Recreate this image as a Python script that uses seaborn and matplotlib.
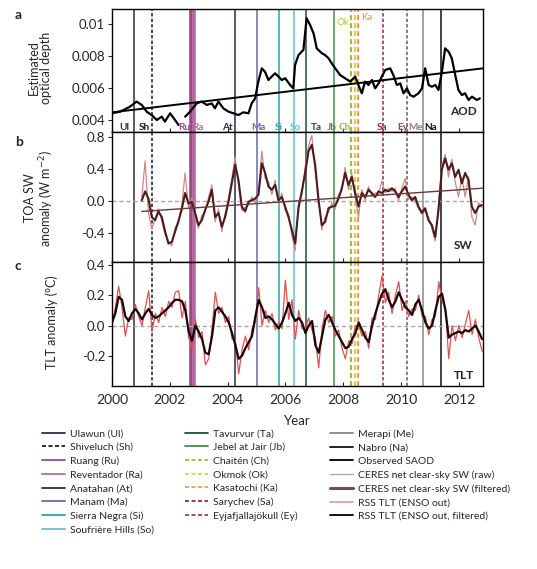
import numpy as np
import pandas as pd
import matplotlib.pyplot as plt
import seaborn as sns
from matplotlib.lines import Line2D

# ---- data ----
volc_names = ["Ulawun (Ul)", "Shiveluch (Sh)", "Ruang (Ru)", "Reventador (Ra)",
              "Anatahan (At)", "Manam (Ma)", "Sierra Negra (Si)", "Soufrière Hills (So)",
              "Tavurvur (Ta)", "Jebel at Jair (Jb)", "Chaitén (Ch)", "Okmok (Ok)",
              "Kasatochi (Ka)", "Sarychev (Sa)", "Eyjafjallajökull (Ey)",
              "Merapi (Me)", "Nabro (Na)"]
volc_codes = ["Ul", "Sh", "Ru", "Ra", "At", "Ma", "Si", "So", "Ta", "Jb", "Ch", "Ok",
              "Ka", "Sa", "Ey", "Me", "Na"]
volc_dates = [2000.76, 2001.37, 2002.74, 2002.84, 2004.25, 2005.00, 2005.76, 2006.31,
              2006.71, 2007.69, 2008.26, 2008.40, 2008.52, 2009.37, 2010.20, 2010.77, 2011.38]

aod_year = [2000.00, 2000.28, 2000.62, 2000.85, 2001.03, 2001.20, 2001.37, 2001.55, 2001.72,
            2001.83, 2002.01, 2002.18, 2002.30,
            2002.53, 2002.70, 2002.93, 2003.10, 2003.28, 2003.45, 2003.56, 2003.68, 2003.85,
            2004.03, 2004.20, 2004.37, 2004.54, 2004.72, 2004.83, 2004.95, 2005.06, 2005.18,
            2005.29, 2005.41, 2005.52, 2005.64, 2005.76, 2005.87, 2005.99, 2006.16, 2006.27,
            2006.33, 2006.45, 2006.62, 2006.73, 2006.85, 2006.97, 2007.08, 2007.26, 2007.37,
            2007.49, 2007.60, 2007.72, 2007.89, 2008.06, 2008.24, 2008.41, 2008.52, 2008.64,
            2008.75, 2008.87, 2008.99, 2009.10, 2009.22, 2009.33, 2009.45, 2009.62, 2009.73,
            2009.85, 2009.97, 2010.08, 2010.20, 2010.31, 2010.43, 2010.60, 2010.72, 2010.83,
            2010.95, 2011.06, 2011.18, 2011.29, 2011.41, 2011.52, 2011.64, 2011.75, 2011.87,
            2011.98, 2012.10, 2012.21, 2012.33, 2012.45, 2012.62, 2012.72]
aod_value = [0.00444, 0.00454, 0.00485, 0.00517, 0.00496, 0.00454, 0.00433, 0.00402, 0.00423,
             0.00392, 0.00444, 0.00402, 0.00371,
             0.00423, 0.00454, 0.00506, 0.00517, 0.00496, 0.00506, 0.00475, 0.00517, 0.00475,
             0.00454, 0.00444, 0.00433, 0.00450, 0.00444, 0.00506, 0.00537, 0.00642, 0.00725,
             0.00704, 0.00652, 0.00673, 0.00694, 0.00673, 0.00652, 0.00663, 0.00621, 0.00600,
             0.00746, 0.00808, 0.00840, 0.01038, 0.00996, 0.00944, 0.00850, 0.00819, 0.00808,
             0.00788, 0.00756, 0.00725, 0.00683, 0.00663, 0.00642, 0.00673, 0.00621, 0.00569,
             0.00642, 0.00621, 0.00652, 0.00600, 0.00631, 0.00673, 0.00715, 0.00725, 0.00683,
             0.00621, 0.00631, 0.00569, 0.00600, 0.00558, 0.00548, 0.00569, 0.00600, 0.00725,
             0.00621, 0.00610, 0.00621, 0.00590, 0.00704, 0.00850, 0.00829, 0.00788, 0.00683,
             0.00590, 0.00558, 0.00569, 0.00527, 0.00548, 0.00527, 0.00537]
aod_segment = [0] * 13 + [1] * 79
aod_trend_year = [2000.0, 2012.83]
aod_trend = [0.00450, 0.00725]

# CERES SW, sampled every ~0.115 yr starting 2001.03
sw_start = 2001.03
sw_step = 0.1153
sw_filtered = [0.01, 0.12, 0.03, -0.20, -0.24, -0.13, -0.20, -0.38, -0.53, -0.51,
               -0.38, -0.25, -0.10, 0.10, -0.03, -0.01, -0.15, -0.30, -0.24, -0.11,
               -0.01, 0.14, -0.20, -0.15, -0.32, -0.20, -0.01, 0.22, 0.45, 0.26,
               -0.07, -0.13, -0.01, 0.01, 0.03, 0.08, 0.47, 0.35, 0.18, 0.14,
               0.20, 0.01, 0.05, -0.07, -0.20, -0.36, -0.53, -0.09, 0.12, 0.35,
               0.62, 0.70, 0.45, 0.01, -0.30, -0.26, -0.09, -0.07, -0.06, 0.03,
               0.16, 0.35, 0.20, 0.30, 0.10, -0.07, 0.10, 0.05, 0.14, 0.10,
               0.05, 0.12, 0.10, 0.14, 0.12, 0.16, 0.12, 0.05, 0.12, 0.18,
               0.08, 0.01, 0.05, -0.07, -0.15, -0.09, -0.24, -0.30, -0.45, -0.11,
               0.39, 0.53, 0.39, 0.47, 0.30, 0.39, 0.22, 0.35, 0.26, -0.07,
               -0.15, -0.07, -0.05]
sw_raw = [0.05, 0.50, -0.15, -0.35, -0.22, -0.10, -0.25, -0.42, -0.50, -0.56,
          -0.33, -0.28, -0.05, 0.35, -0.08, 0.04, -0.20, -0.34, -0.18, -0.14,
          0.04, 0.20, -0.26, -0.10, -0.38, -0.15, 0.03, 0.28, 0.55, 0.20,
          -0.12, -0.08, -0.05, 0.05, -0.02, 0.12, 0.62, 0.28, 0.24, 0.08,
          0.26, -0.04, 0.10, -0.12, -0.16, -0.42, -0.62, -0.02, 0.08, 0.42,
          0.68, 0.82, 0.38, 0.06, -0.36, -0.20, -0.14, -0.02, -0.10, 0.08,
          0.12, 0.42, 0.14, 0.34, 0.04, -0.20, 0.14, 0.00, 0.18, 0.06,
          0.10, 0.08, 0.25, 0.10, 0.16, 0.12, 0.16, 0.00, 0.16, 0.28,
          0.02, 0.05, 0.00, -0.10, -0.12, -0.14, -0.20, -0.34, -0.50, -0.05,
          0.44, 0.58, 0.30, 0.52, 0.24, 0.05, 0.30, 0.05, 0.30, -0.20,
          -0.30, -0.02, -0.08]
sw_trend_year = [2001.03, 2012.83]
sw_trend = [-0.13, 0.16]

# RSS TLT (ENSO removed), sampled every ~0.115 yr starting 2000.0
tlt_start = 2000.0
tlt_step = 0.1153
tlt_filtered = [0.02, 0.08, 0.19, 0.17, 0.06, 0.03, 0.08, 0.11, 0.08, 0.04,
                0.08, 0.11, 0.07, 0.05, 0.06, 0.08, 0.10, 0.12, 0.15, 0.17,
                0.17, 0.16, 0.10, -0.04, -0.10, 0.00, -0.04, -0.09, -0.18, -0.19,
                -0.07, 0.10, 0.12, 0.09, 0.06, 0.02, -0.05, -0.13, -0.22, -0.20,
                -0.15, -0.11, -0.07, 0.06, 0.17, 0.12, 0.05, 0.06, 0.04, 0.01,
                -0.02, 0.02, 0.08, 0.15, 0.07, 0.03, 0.05, 0.02, -0.05, 0.00,
                0.03, -0.13, -0.18, -0.07, 0.04, 0.07, 0.02, -0.03, -0.07, -0.11,
                -0.15, -0.14, -0.09, -0.05, 0.02, -0.03, -0.08, -0.11, 0.00, 0.08,
                0.15, 0.21, 0.24, 0.17, 0.12, 0.16, 0.22, 0.17, 0.12, 0.10,
                0.07, 0.14, 0.17, 0.10, 0.02, -0.02, 0.00, 0.10, 0.19, 0.21,
                0.10, -0.08, -0.06, -0.05, -0.04, -0.05, -0.03, -0.04, -0.02, 0.00,
                -0.04, -0.09]
tlt_raw = [0.00, 0.12, 0.26, 0.12, -0.07, 0.05, 0.04, 0.14, 0.06, 0.00,
           0.12, 0.23, -0.04, 0.08, 0.02, 0.12, 0.06, 0.16, 0.12, 0.22,
           0.23, 0.05, 0.16, -0.08, -0.15, 0.04, -0.08, -0.04, -0.26, -0.22,
           -0.02, 0.22, 0.08, 0.12, 0.02, 0.06, -0.09, -0.10, -0.32, -0.16,
           -0.07, -0.16, -0.02, 0.02, 0.25, 0.00, 0.10, 0.02, 0.08, -0.03,
           0.02, -0.02, 0.30, 0.04, 0.17, -0.09, 0.10, -0.02, -0.02, 0.05,
           -0.03, -0.08, -0.28, -0.02, 0.10, 0.02, 0.06, -0.07, -0.03, -0.15,
           -0.22, -0.10, -0.12, 0.00, 0.00, -0.07, -0.04, -0.15, 0.05, 0.04,
           0.20, 0.33, 0.15, 0.22, 0.08, 0.20, 0.29, 0.10, 0.16, 0.06,
           0.11, 0.10, 0.20, 0.06, 0.06, -0.06, 0.04, 0.06, 0.29, 0.16,
           0.12, -0.22, 0.00, -0.10, 0.00, -0.08, 0.01, 0.10, -0.06, 0.04,
           -0.08, -0.17]

# ---- styles ----
volc_colors = ["#3a2440", "#1a1a1a", "#9a4a88", "#b86aa0", "#2a2a48", "#6a6aa6",
               "#30a2aa", "#62c4cc", "#1f4f3a", "#4a8a50", "#92c040", "#e0d040",
               "#f0a040", "#a02040", "#8a4a5a", "#888888", "#111111"]
dashed = {"Sh", "Ch", "Ok", "Ka", "Sa", "Ey"}
thick = {"Ru": 2.6, "Ra": 2.6, "Ch": 1.6, "Ok": 1.6, "Ka": 1.6}
dash_style = (0, (2.2, 1.4))

sns.set_style("ticks")
plt.rcParams["font.family"] = ["Lato", "DejaVu Sans"]

fig = plt.figure(figsize=(5.37, 5.69), dpi=100)
W, H = 537, 569
L, R = 112 / W, 483 / W


def fy(p):
    return 1 - p / H


ax_a = fig.add_axes([L, fy(132), R - L, fy(9) - fy(132)])
ax_b = fig.add_axes([L, fy(262), R - L, fy(132) - fy(262)])
ax_c = fig.add_axes([L, fy(386), R - L, fy(262) - fy(386)])
axes = [ax_a, ax_b, ax_c]

# volcano markers on all panels
for ax in axes:
    for code, d, c in zip(volc_codes, volc_dates, volc_colors):
        ls = dash_style if code in dashed else "-"
        ax.axvline(d, color=c, lw=thick.get(code, 1.1), ls=ls, zorder=1)

# panel a: AOD
df_aod = pd.DataFrame({"year": aod_year, "aod": aod_value, "seg": aod_segment})
sns.lineplot(data=df_aod, x="year", y="aod", units="seg", estimator=None,
             color="black", lw=1.6, ax=ax_a, zorder=3)
sns.lineplot(x=aod_trend_year, y=aod_trend, color="black", lw=1.4, ax=ax_a, zorder=3)

# panel b: SW
sw_year = sw_start + sw_step * np.arange(len(sw_filtered))
ax_b.axhline(0, color="#a8a8a8", lw=1.0, ls=(0, (3, 2)), zorder=1)
sns.lineplot(x=sw_year, y=sw_raw, color="#c98a8a", lw=0.9, ax=ax_b, zorder=2)
sns.lineplot(x=sw_year, y=sw_filtered, color="#4a1c1c", lw=1.5, ax=ax_b, zorder=3)
sns.lineplot(x=sw_trend_year, y=sw_trend, color="#6a3a3a", lw=1.0, ax=ax_b, zorder=3)

# panel c: TLT
tlt_year = tlt_start + tlt_step * np.arange(len(tlt_filtered))
ax_c.axhline(0, color="#a8a8a8", lw=1.0, ls=(0, (3, 2)), zorder=1)
sns.lineplot(x=tlt_year, y=tlt_raw, color="#e05050", lw=0.9, ax=ax_c, zorder=2)
sns.lineplot(x=tlt_year, y=tlt_filtered, color="#1a0808", lw=1.6, ax=ax_c, zorder=3)

# axes formatting
ylims = [(0.00327, 0.01096), (-0.76, 0.86), (-0.40, 0.42)]
yticks = [[0.004, 0.006, 0.008, 0.01], [-0.4, 0.0, 0.4, 0.8], [-0.2, 0.0, 0.2, 0.4]]
ytlabels = [["0.004", "0.006", "0.008", "0.01"], ["-0.4", "0.0", "0.4", "0.8"],
            ["-0.2", "0.0", "0.2", "0.4"]]
for ax, yl, yt, ytl in zip(axes, ylims, yticks, ytlabels):
    ax.set_xlim(2000, 2012.83)
    ax.set_ylim(*yl)
    ax.set_yticks(yt)
    ax.set_yticklabels(ytl)
    ax.set_xticks([2000, 2002, 2004, 2006, 2008, 2010, 2012])
    ax.tick_params(axis="y", direction="out", length=3, width=0.8, labelsize=9.5, pad=2)
    ax.tick_params(axis="x", direction="in", length=3, width=0.8, labelsize=10, pad=6)
    ax.set_xlabel("")
    ax.set_ylabel("")
    for s in ax.spines.values():
        s.set_visible(True)
        s.set_linewidth(1.0)
        s.set_color("black")
    ax.set_facecolor("white")
ax_a.tick_params(axis="x", labelbottom=False)
ax_b.tick_params(axis="x", labelbottom=False)
ax_c.set_xlabel("Year", fontsize=9.5, labelpad=6)

# volcano abbreviations in panel a
lab_x = {"Ul": 2000.42, "Sh": 2001.11, "Ru": 2002.50, "Ra": 2002.96, "At": 2003.99,
         "Ma": 2005.06, "Si": 2005.76, "So": 2006.33, "Ta": 2007.08, "Jb": 2007.60,
         "Ch": 2008.04, "Sa": 2009.33, "Ey": 2010.04, "Me": 2010.50, "Na": 2011.02}
for code, c in zip(volc_codes, volc_colors):
    if code in lab_x:
        ax_a.text(lab_x[code], 0.00358, code, color=c, fontsize=7.2,
                  fontweight="bold", ha="center", va="center", zorder=4)
ax_a.text(2008.0, 0.01012, "Ok", color="#b8c030", fontsize=7, ha="center", va="center")
ax_a.text(2008.82, 0.01042, "Ka", color="#f09040", fontsize=7, ha="center", va="center")

ax_a.text(2012.16, 0.00457, "AOD", fontsize=8.5, fontweight="bold", ha="center", va="center")
ax_b.text(2012.16, -0.55, "SW", fontsize=8.5, fontweight="bold", ha="center", va="center")
ax_c.text(2012.16, -0.33, "TLT", fontsize=8.5, fontweight="bold", ha="center", va="center")

# panel letters and y labels
for letter, py in zip("abc", [15, 142, 266]):
    fig.text(15 / W, fy(py), letter, fontsize=10, fontweight="bold", va="center")
fig.text(40 / W, fy(68), "Estimated\noptical depth", rotation=90, fontsize=9,
         ha="center", va="center", linespacing=1.1)
fig.text(40 / W, fy(198), "TOA SW\nanomaly (W m$^{-2}$)", rotation=90, fontsize=9,
         ha="center", va="center", linespacing=1.1)
fig.text(52 / W, fy(322), "TLT anomaly (°C)", rotation=90, fontsize=9,
         ha="center", va="center")

# legend, three columns
handles = []
for code, c in zip(volc_codes, volc_colors):
    ls = dash_style if code in dashed else "-"
    handles.append(Line2D([], [], color=c, lw=1.3, ls=ls))
labels = list(volc_names)
extra = [("Observed SAOD", "black", 1.3), ("CERES net clear-sky SW (raw)", "#b8a8a8", 1.0),
         ("CERES net clear-sky SW (filtered)", "#7a4a4a", 2.2),
         ("RSS TLT (ENSO out)", "#d89a9a", 1.2), ("RSS TLT (ENSO out, filtered)", "black", 1.3)]
for name, c, lw in extra:
    handles.append(Line2D([], [], color=c, lw=lw))
    labels.append(name)

cols = [(0, 8, 42), (8, 15, 185), (15, 22, 330)]
for i0, i1, px in cols:
    fig.legend(handles[i0:i1], labels[i0:i1], loc="upper left",
               bbox_to_anchor=(px / W, fy(429)), frameon=False, fontsize=7.5,
               handlelength=2.2, handletextpad=0.5, labelspacing=0.42,
               borderpad=0, borderaxespad=0)

fig.savefig("out.png", dpi=100)
